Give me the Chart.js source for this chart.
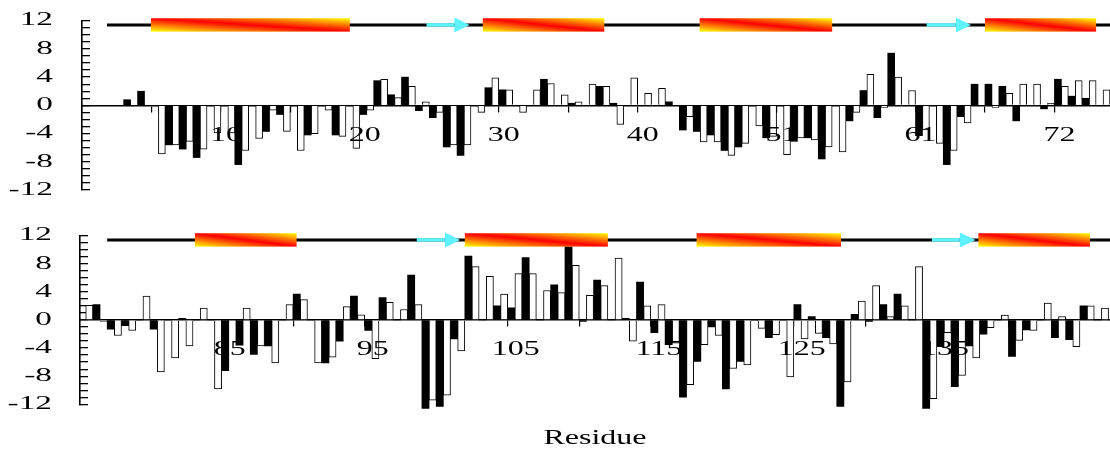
<!DOCTYPE html>
<html>
<head>
<meta charset="utf-8">
<script src="https://cdn.jsdelivr.net/npm/chart.js@4.4.1/dist/chart.umd.min.js"></script>
<style>
  html, body { margin: 0; padding: 0; background: #fff; }
  #wrap { position: relative; width: 1110px; height: 451px; overflow: hidden; }
  canvas { position: absolute; left: 0; }
  #topPanel { top: 0; }
  #bottomPanel { top: 215px; }
</style>
</head>
<body>
<div id="wrap">
  <canvas id="topPanel" width="1110" height="215"></canvas>
  <canvas id="bottomPanel" width="1110" height="236"></canvas>
</div>
<script>
// ---- residues shown in each panel ----
const topResidues = [1,2,3,4,5,6,7,8,9,10,11,12,13,14,15,16,17,18,19,20,
  21,22,23,24,25,26,27,28,29,30,31,32,33,34,35,36,37,38,39,40,
  41,42,43,44,45,46,47,48,49,50,51,52,53,54,55,56,57,58,59,60,
  61,62,63,64,65,66,67,68,69,70,71,72,73,74];
const bottomResidues = [76,77,78,79,80,81,82,83,84,85,86,87,88,89,90,
  91,92,93,94,95,96,97,98,99,100,101,102,103,104,105,106,107,108,109,110,
  111,112,113,114,115,116,117,118,119,120,121,122,123,124,125,126,127,128,129,130,
  131,132,133,134,135,136,137,138,139,140,141,142,143,144,145,146,147];

// ---- per-residue values: open bars and filled bars ----
const topOpen = [0, 0, 0, 0, 0, -6.9, -5.6, -5.1, -6.2, -3.9,
  -3.9, -6.4, -4.7, -0.7, -3.7, -6.4, -4.0, -0.7, -4.4, -6.1,
  -0.7, 3.7, 1.1, 2.7, 0.5, -1.0, -5.6, -5.6, -1.0, 3.9,
  2.2, -1.0, 2.2, 3.1, 1.5, 0.5, 3.0, 2.7, -2.7, 3.9,
  1.7, 2.4, 0, -1.6, -5.2, -5.2, -7.1, -5.4, -2.9, -4.4,
  -7.0, -4.6, -4.9, -5.9, -6.6, -1.0, 4.4, -0.3, 4.0, 2.1,
  -3.5, -5.4, -6.4, -2.5, 0, -0.3, 1.7, 3.0, 3.0, 0.3,
  2.7, 3.5, 3.5, 2.2];
const topFilled = [0, 0, 0.8, 2.0, 0, -5.6, -6.2, -7.4, 0, 0,
  -8.4, 0, -3.7, -1.3, 0, -4.2, 0, -4.2, 0, -1.3,
  3.5, 1.5, 4.0, -0.75, -1.75, -5.9, -7.1, 0, 2.5, 2.2,
  0, 0, 3.7, 0, 0.3, 0, 2.7, 0.3, 0, 0,
  0, 0.5, -3.5, -3.7, -4.2, -6.4, -5.9, 0, -4.6, 0,
  -5.1, -4.6, -7.6, 0, -2.2, 2.1, -1.75, 7.4, 0, -4.3,
  0, -8.4, -1.6, 3.0, 3.0, 2.7, -2.2, 0, -0.5, 3.7,
  1.3, 1.0, 0, 0];
const bottomOpen = [2.1, -0.2, -2.2, -1.5, 3.4, -7.4, -5.4, -3.7, 1.7, -9.8,
  0, 1.7, -3.7, -6.1, 2.2, 2.9, -6.1, -5.3, 1.9, 0.75,
  -5.5, 2.5, 1.5, 2.2, -11.4, -10.7, -4.4, 7.6, 6.2, 3.7,
  6.6, 6.6, 4.2, 3.9, 7.8, 3.5, 4.9, 8.8, -3.0, 2.0,
  2.2, -3.3, -9.2, -3.5, -2.2, -6.9, -6.4, -1.2, -2.1, -8.1,
  -2.7, -1.9, -3.4, -8.8, 2.7, 4.9, 0.5, 2.0, 7.6, -11.2,
  -1.8, -7.9, -5.4, -1.1, 0.7, -2.9, -1.5, 2.4, 0.5, -3.8,
  2.0, 1.7];
const bottomFilled = [2.2, -1.3, -0.8, 0, -1.3, 0, 0.25, 0, 0, -7.2,
  -3.6, -4.9, -3.7, 0, 3.7, 0, -6.1, -3.0, 3.4, -1.5,
  3.2, 0, 6.4, -12.6, -12.3, -2.7, 9.1, 0, 2.0, 1.75,
  8.9, 0, 5.0, 10.4, -0.2, 5.7, 0, 0.25, 5.4, -1.8,
  -3.5, -11.0, -5.9, -1.0, -9.8, -5.9, 0, -2.5, 0, 2.2,
  0.5, -2.5, -12.3, 0.8, -0.2, 2.2, 3.7, 0, -12.6, -3.8,
  -9.5, -3.7, -2.0, 0, -5.2, -1.4, 0, -2.5, -2.8, 2.0,
  0, 0];

// ---- axis tick labels ----
const yTickValues = [-12, -8, -4, 0, 4, 8, 12];
const topTickValues = [10, 20, 30, 40, 50, 60, 70];
const topTickLabels = ['10', '20', '30', '40', '51', '61', '72'];
const bottomTickValues = [85, 95, 105, 115, 125, 135, 145];
const bottomTickLabels = ['85', '95', '105', '115', '125', '135', '145'];

// ---- secondary structure (residue ranges) ----
const structureLevel = 11.4;
const topCoilStart = 1.8;
const topHelices = [[4.96, 19.28], [28.85, 37.6], [44.46, 54.0], [65.0, 73.0]];
const topStrands = [[24.8, 26.8, 27.9], [60.8, 62.9, 64.0]];        // start, arrow head, tip
const bottomCoilStart = 77.0;
const bottomHelices = [[83.13, 90.24], [102.0, 112.0], [118.2, 128.3], [137.9, 145.7]];
const bottomStrands = [[98.64, 100.6, 101.67], [134.65, 136.6, 137.7]];

// ---- text is set in a wide serif: stretch glyphs horizontally around their anchor ----
const TEXT_WIDEN = { 18: 1.85, 20: 1.6 };
function widenText(canvas) {
  const ctx = canvas.getContext('2d');
  const nativeFill = ctx.fillText;
  ctx.fillText = function (text, x, y, maxWidth) {
    const m = /(\d+(?:\.\d+)?)px/.exec(this.font);
    const k = (m && TEXT_WIDEN[Math.round(+m[1])]) || 1;
    this.save();
    this.translate(x, y);
    this.scale(k, 1);
    if (maxWidth === undefined || maxWidth === null) nativeFill.call(this, text, 0, 0);
    else nativeFill.call(this, text, 0, 0, maxWidth / k);
    this.restore();
  };
}

// ---- draws coil line, strand arrows and helix bars above the plot ----
function structurePlugin(coilStart, strands, helices) {
  return {
    id: 'secondaryStructure',
    afterDatasetsDraw(chart) {
      const { ctx, chartArea } = chart;
      const xs = chart.scales.x, ys = chart.scales.y;
      const yc = ys.getPixelForValue(structureLevel);
      ctx.save();
      ctx.strokeStyle = '#000';
      ctx.lineWidth = 3;
      ctx.beginPath();
      ctx.moveTo(xs.getPixelForValue(coilStart), yc);
      ctx.lineTo(chartArea.right + 10, yc);
      ctx.stroke();

      ctx.fillStyle = '#5ef2fc';
      for (const [s, h, e] of strands) {
        const x0 = xs.getPixelForValue(s), xh = xs.getPixelForValue(h), xe = xs.getPixelForValue(e);
        ctx.fillRect(x0, yc - 1.8, xh - x0, 3.6);
        ctx.beginPath();
        ctx.moveTo(xh, yc - 7.5);
        ctx.lineTo(xe, yc);
        ctx.lineTo(xh, yc + 7.5);
        ctx.closePath();
        ctx.fill();
      }

      for (const [s, e] of helices) {
        const x0 = xs.getPixelForValue(s), x1 = xs.getPixelForValue(e);
        const y0 = yc - 6.7, y1 = yc + 6.7;
        const w = x1 - x0, h = y1 - y0, L = Math.hypot(w, h);
        const cx = (x0 + x1) / 2, cy = (y0 + y1) / 2;
        const nx = h / L, ny = -w / L, d = w * h / L;
        const g = ctx.createLinearGradient(cx - nx * d, cy - ny * d, cx + nx * d, cy + ny * d);
        g.addColorStop(0, '#ffff00');
        g.addColorStop(0.5, '#ff0000');
        g.addColorStop(1, '#ffff00');
        ctx.fillStyle = g;
        ctx.fillRect(x0, y0, w, h);
      }
      ctx.restore();
    }
  };
}

Chart.defaults.font.family = 'Liberation Serif';
Chart.defaults.color = '#000';

function pairs(residues, values) {
  return residues.map((r, i) => ({ x: r, y: values[i] }));
}

function panelConfig(p) {
  const barCommon = { categoryPercentage: 1, barPercentage: 1, clip: { left: 0, top: 30, right: 0, bottom: 30 } };
  return {
    type: 'bar',
    data: {
      datasets: [
        Object.assign({ label: 'open', data: pairs(p.residues, p.open), backgroundColor: '#fff', borderColor: '#000', borderWidth: 1 }, barCommon),
        Object.assign({ label: 'filled', data: pairs(p.residues, p.filled), backgroundColor: '#000', borderColor: '#000', borderWidth: 0 }, barCommon)
      ]
    },
    plugins: [structurePlugin(p.coilStart, p.strands, p.helices)],
    options: {
      responsive: false,
      animation: false,
      devicePixelRatio: 1,
      layout: { padding: p.padding },
      plugins: {
        legend: { display: false },
        tooltip: { enabled: false },
        title: p.title
      },
      scales: {
        x: {
          type: 'linear',
          min: p.xMin, max: p.xMax,
          offset: false,
          position: { y: 0 },
          afterFit: (s) => { s.height = 0; s.paddingLeft = 0; s.paddingRight = 0; },
          border: { display: true, color: '#000', width: 1.5 },
          grid: {
            display: true, offset: false, drawOnChartArea: false, drawTicks: true, tickLength: 6, lineWidth: 1.2,
            color: (c) => (c.tick && Math.abs(c.tick.value % 5) < 1e-6) ? '#000' : 'rgba(0,0,0,0)'
          },
          ticks: {
            z: 1,
            stepSize: 5, autoSkip: false, maxRotation: 0, minRotation: 0,
            padding: 12, labelOffset: p.labelOffset, color: '#000',
            font: { family: 'Liberation Serif', size: 20 },
            callback: (v) => { const i = p.tickValues.indexOf(v); return i >= 0 ? p.tickLabels[i] : ''; }
          }
        },
        y: {
          min: -12, max: 12,
          afterFit: (s) => { s.width = p.axisLeft; s.paddingTop = 0; s.paddingBottom = 0; },
          border: { display: true, color: '#000', width: 1.6 },
          grid: { display: true, drawOnChartArea: false, drawTicks: true, tickLength: -8, color: '#000', lineWidth: 1.3 },
          ticks: {
            stepSize: 1, autoSkip: false, padding: p.yPad, color: '#000',
            font: { family: 'Liberation Serif', size: 18 },
            callback: (v) => yTickValues.includes(v) ? String(v) : ''
          }
        }
      }
    }
  };
}

const topCanvas = document.getElementById('topPanel');
const bottomCanvas = document.getElementById('bottomPanel');
widenText(topCanvas);
widenText(bottomCanvas);

new Chart(topCanvas, panelConfig({
  residues: topResidues, open: topOpen, filled: topFilled,
  xMin: 0, xMax: 74, axisLeft: 82, yPad: 37, labelOffset: 5,
  tickValues: topTickValues, tickLabels: topTickLabels,
  coilStart: topCoilStart, strands: topStrands, helices: topHelices,
  padding: { top: 20.7, bottom: 25, left: 0, right: 0 },
  title: { display: false }
}));

new Chart(bottomCanvas, panelConfig({
  residues: bottomResidues, open: bottomOpen, filled: bottomFilled,
  xMin: 75.1, xMax: 147.1, axisLeft: 80, yPad: 36, labelOffset: 8,
  tickValues: bottomTickValues, tickLabels: bottomTickLabels,
  coilStart: bottomCoilStart, strands: bottomStrands, helices: bottomHelices,
  padding: { top: 20.7, bottom: 0, left: 0, right: 0 },
  title: {
    display: true, position: 'bottom', text: 'Residue', fullSize: false, color: '#000',
    font: { family: 'Liberation Serif', size: 20, weight: 'normal' },
    padding: { top: 22.7, bottom: 0 }
  }
}));
</script>
</body>
</html>
